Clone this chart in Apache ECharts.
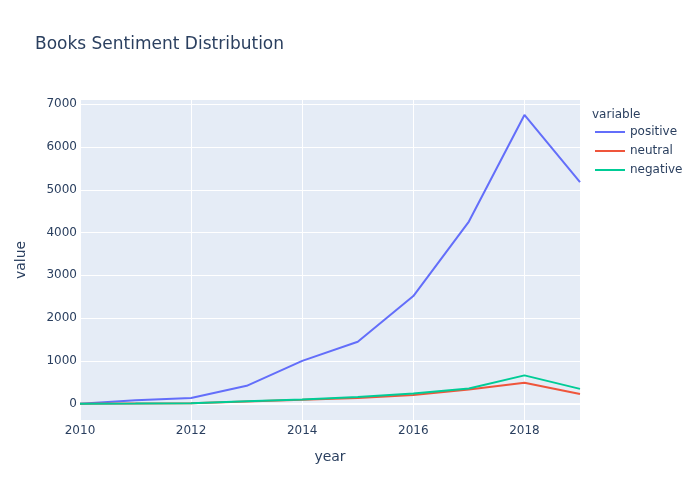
<!DOCTYPE html>
<html>
<head>
<meta charset="utf-8">
<script src="https://cdn.jsdelivr.net/npm/echarts@6/dist/echarts.min.js"></script>
<style>html,body{margin:0;padding:0;background:#fff}#c{width:700px;height:500px}</style>
</head>
<body>
<div id="c"></div>
<script>
const years = [2010, 2011, 2012, 2013, 2014, 2015, 2016, 2017, 2018, 2019];
const positive = [0, 80, 134, 417, 1000, 1449, 2516, 4258, 6750, 5180];
const neutral = [0, 5, 10, 50, 90, 134, 205, 330, 488, 228];
const negative = [0, 5, 12, 58, 95, 157, 236, 354, 661, 346];
const yTicks = [0, 1000, 2000, 3000, 4000, 5000, 6000, 7000];
const xTicks = [2010, 2012, 2014, 2016, 2018];
const seriesNames = ['positive', 'neutral', 'negative'];
const colors = ['#636efa', '#EF553B', '#00cc96'];

const font = '"DejaVu Sans", Verdana, sans-serif';
const textColor = '#2a3f5f';
const chart = echarts.init(document.getElementById('c'), null, {renderer: 'canvas'});
const dataSets = [positive, neutral, negative];
const series = seriesNames.map((n, i) => ({
  name: n,
  type: 'line',
  data: years.map((y, j) => [y, dataSets[i][j]]),
  showSymbol: false,
  symbol: 'none',
  lineStyle: {width: 2, color: colors[i]},
  itemStyle: {color: colors[i]},
  z: 3 + i,
  markLine: i === 0 ? {
    silent: true, symbol: 'none', label: {show: false},
    lineStyle: {color: '#ffffff', width: 2, type: 'solid'},
    data: [{yAxis: 0}], z: 1, animation: false
  } : undefined
}));

chart.setOption({
  animation: false,
  backgroundColor: '#ffffff',
  textStyle: {fontFamily: font},
  title: [{
    text: 'Books Sentiment Distribution',
    left: 30, top: 31,
    textStyle: {fontFamily: font, fontSize: 17, fontWeight: 'normal', color: textColor}
  }, {
    text: 'variable',
    left: 587, top: 104,
    textStyle: {fontFamily: font, fontSize: 12, fontWeight: 'normal', color: textColor}
  }],
  legend: {
    orient: 'vertical',
    left: 590, top: 121,
    itemWidth: 30, itemHeight: 14, itemGap: 7,
    icon: 'path://M0,0 L30,0 L30,2 L0,2 Z',
    data: seriesNames,
    textStyle: {fontFamily: font, fontSize: 12, color: textColor}
  },
  grid: {left: 80, right: 120, top: 100, bottom: 80, show: true, backgroundColor: '#E5ECF6', borderWidth: 0},
  xAxis: {
    type: 'value', min: 2010, max: 2019, interval: 2,
    name: 'year', nameLocation: 'middle', nameGap: 30,
    nameTextStyle: {fontFamily: font, fontSize: 14, color: textColor},
    axisLine: {show: false},
    axisTick: {show: false, customValues: xTicks},
    axisLabel: {fontFamily: font, fontSize: 12, color: textColor, margin: 5, customValues: xTicks, formatter: v => String(v)},
    splitLine: {show: true, lineStyle: {color: '#ffffff', width: 1}}
  },
  yAxis: {
    type: 'value', min: -382, max: 7100,
    name: 'value', nameLocation: 'middle', nameGap: 52,
    nameTextStyle: {fontFamily: font, fontSize: 14, color: textColor},
    axisLine: {show: false},
    axisTick: {show: false, customValues: yTicks},
    axisLabel: {fontFamily: font, fontSize: 12, color: textColor, margin: 3, customValues: yTicks, formatter: v => String(v)},
    splitLine: {show: true, lineStyle: {color: '#ffffff', width: 1}}
  },
  series: series
});
</script>
</body>
</html>
